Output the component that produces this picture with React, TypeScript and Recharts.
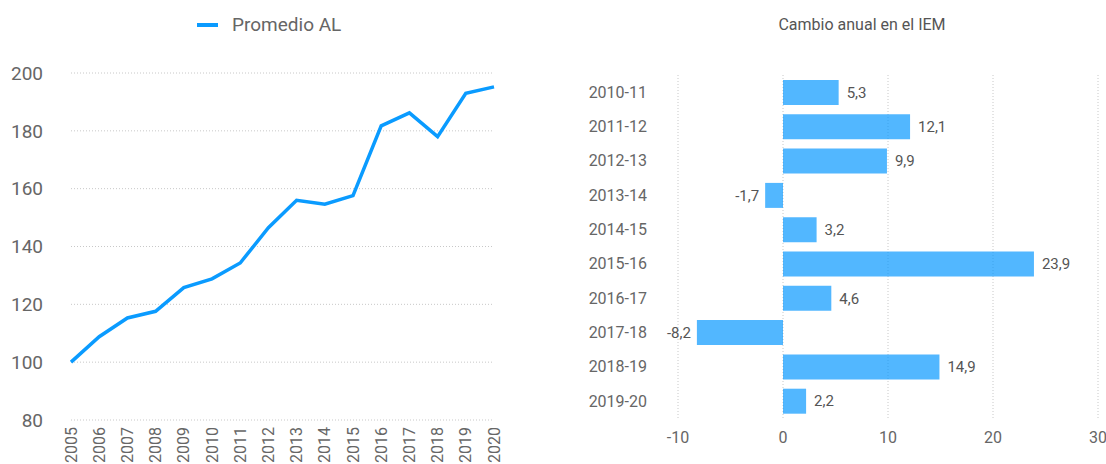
import { LineChart, Line, XAxis, YAxis, CartesianGrid, BarChart, Bar, LabelList } from 'recharts';

const years = ['2005', '2006', '2007', '2008', '2009', '2010', '2011', '2012', '2013', '2014', '2015', '2016', '2017', '2018', '2019', '2020'];
const promedioAL = [100, 108.8, 115.3, 117.6, 125.8, 128.8, 134.3, 146.5, 156, 154.6, 157.6, 181.7, 186.2, 178, 193, 195.2];
const leftTicks = [80, 100, 120, 140, 160, 180, 200];

const periods = ['2010-11', '2011-12', '2012-13', '2013-14', '2014-15', '2015-16', '2016-17', '2017-18', '2018-19', '2019-20'];
const cambioAnual = [5.3, 12.1, 9.9, -1.7, 3.2, 23.9, 4.6, -8.2, 14.9, 2.2];
const rightTicks = [-10, 0, 10, 20, 30];

const FONT = 'Roboto, sans-serif';
const TEXT = '#666666';
const LINE_BLUE = '#0A9BFF';

const lineData = years.map((year, i) => ({ year, value: promedioAL[i] }));
const barData = periods.map((period, i) => ({ period, value: cambioAnual[i] }));

const fmt = (v: number) => v.toFixed(1).replace('.', ',');

function YearTick({ x, y, payload }: any) {
    return (
        <text
            x={x}
            y={y}
            transform={`rotate(-90, ${x}, ${y})`}
            textAnchor="end"
            dy="0.35em"
            fill={TEXT}
            fontSize={16}
            fontFamily={FONT}
        >
            {payload.value}
        </text>
    );
}

function BarValueLabel({ x, y, width, height, value }: any) {
    const left = Math.min(x, x + width);
    const right = Math.max(x, x + width);
    const neg = value < 0;
    return (
        <text
            x={neg ? left - 6 : right + 8}
            y={y + height / 2}
            dy="0.35em"
            textAnchor={neg ? 'end' : 'start'}
            fill="#555555"
            fontSize={15}
            fontFamily={FONT}
        >
            {fmt(value)}
        </text>
    );
}

export default function App() {
    return (
        <div style={{ position: 'absolute', left: 0, top: 0, width: 1106, height: 464, overflow: 'hidden', background: '#fff', fontFamily: FONT }}>
            {/* left: line chart */}
            <div style={{ position: 'absolute', left: 197, top: 13, display: 'flex', alignItems: 'center' }}>
                <span style={{ display: 'inline-block', width: 21, height: 4, background: LINE_BLUE, marginRight: 14 }} />
                <span style={{ fontSize: 19, color: TEXT }}>Promedio AL</span>
            </div>
            <div style={{ position: 'absolute', left: 0, top: 0 }}>
                <LineChart width={520} height={464} data={lineData} margin={{ top: 73, right: 26, bottom: 0, left: 0 }}>
                    <CartesianGrid vertical={false} stroke="#c8c8c8" strokeDasharray="1 2" />
                    <XAxis
                        dataKey="year"
                        interval={0}
                        height={44}
                        axisLine={false}
                        tickLine={false}
                        tickSize={0}
                        tickMargin={7}
                        tick={<YearTick />}
                    />
                    <YAxis
                        domain={[80, 200]}
                        ticks={leftTicks}
                        width={71}
                        axisLine={false}
                        tickLine={false}
                        tickSize={0}
                        tickMargin={28}
                        tick={{ fill: TEXT, fontSize: 19, fontFamily: FONT }}
                    />
                    <Line type="linear" dataKey="value" stroke={LINE_BLUE} strokeWidth={3.5} dot={false} isAnimationActive={false} />
                </LineChart>
            </div>

            {/* right: bar chart */}
            <div style={{ position: 'absolute', left: 862, top: 15, transform: 'translateX(-50%)', whiteSpace: 'nowrap', fontSize: 16, color: '#555' }}>
                Cambio anual en el IEM
            </div>
            <div style={{ position: 'absolute', left: 560, top: 0 }}>
                <BarChart width={546} height={464} data={barData} layout="vertical" margin={{ top: 75, right: 8, bottom: 16, left: 0 }}>
                    <CartesianGrid horizontal={false} stroke="#c8c8c8" strokeDasharray="1 2" />
                    <XAxis
                        type="number"
                        domain={[-10, 30]}
                        ticks={rightTicks}
                        height={30}
                        axisLine={false}
                        tickLine={false}
                        tickSize={0}
                        tickMargin={14}
                        tick={{ fill: TEXT, fontSize: 16, fontFamily: FONT }}
                    />
                    <YAxis
                        type="category"
                        dataKey="period"
                        width={118}
                        axisLine={false}
                        tickLine={false}
                        tickSize={0}
                        tickMargin={31}
                        tick={{ fill: TEXT, fontSize: 16, fontFamily: FONT }}
                    />
                    <Bar dataKey="value" fill="#0095FF" fillOpacity={0.68} barSize={25} isAnimationActive={false}>
                        <LabelList dataKey="value" content={<BarValueLabel />} />
                    </Bar>
                </BarChart>
            </div>
        </div>
    );
}
